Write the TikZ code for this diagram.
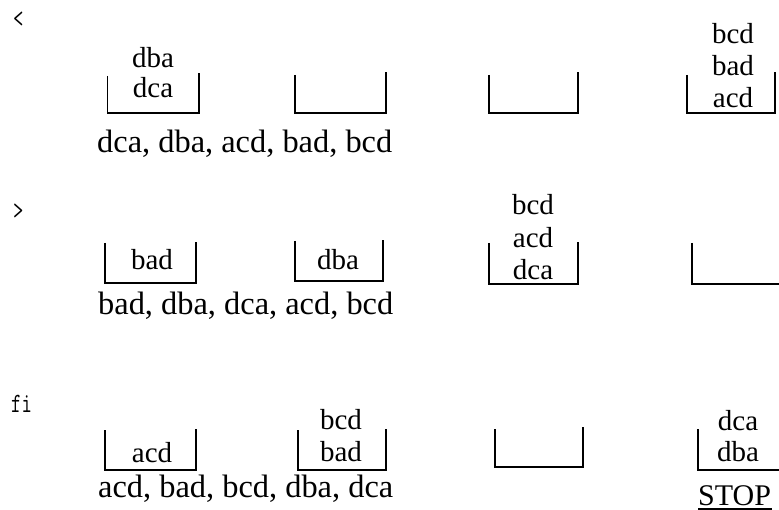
\documentclass[tikz,border=0pt]{standalone}
\usepackage{fontspec}
\setmainfont{Liberation Serif}
\newcommand\myseqfont{\fontsize{32.4}{38}\selectfont}
\newcommand\myitemfont{\fontsize{29}{32}\selectfont}
\newcommand\mytag[1]{\scalebox{0.72}[1]{\ttfamily\fontsize{28}{30}\selectfont #1}}
\begin{document}
\begin{tikzpicture}[x=1pt,y=-1pt,
  bucket/.style={line width=1.8pt},
  item/.style={anchor=base,inner sep=0pt,font=\myitemfont},
  seq/.style={anchor=base west,inner sep=0pt,font=\myseqfont},
  stopstyle/.style={anchor=base west,inner sep=0pt,font=\fontsize{30}{36}\selectfont},
  rowtag/.style={anchor=base west,inner sep=0pt}]
\useasboundingbox (0,0) rectangle (779,510);
% ---------- row 1 ----------
\node[rowtag] (m1) at (13,28) {\mytag{<}};
\draw[bucket] (107.5,76) |- (199,113) -- (199,73);
\node[item] (r1a1) at (153,68) {dba};
\node[item] (r1a2) at (153,98) {dca};
\draw[bucket] (294.7,75) |- (385.7,113) -- (385.7,72);
\draw[bucket] (489,75) |- (578,113) -- (578,72);
\draw[bucket] (687,75) |- (775,113) -- (775,72);
\node[item] (r1d1) at (733,44) {bcd};
\node[item] (r1d2) at (733,76) {bad};
\node[item] (r1d3) at (733,108) {acd};
\node[seq] (s1) at (97,153) {dca, dba, acd, bad, bcd};
% ---------- row 2 ----------
\node[rowtag] (m2) at (13,220) {\mytag{>}};
\draw[bucket] (105,243) |- (196,283) -- (196,242);
\node[item] (r2a1) at (152,270) {bad};
\draw[bucket] (295,241) |- (383,281) -- (383,240);
\node[item] (r2b1) at (338,270) {dba};
\draw[bucket] (489,243) |- (578,284) -- (578,242);
\node[item] (r2c1) at (533,215) {bcd};
\node[item] (r2c2) at (533,248) {acd};
\node[item] (r2c3) at (533,280) {dca};
\draw[bucket] (692,243) |- (779,284);
\node[seq] (s2) at (98,315) {bad, dba, dca, acd, bcd};
% ---------- row 3 ----------
\node[rowtag] (m3) at (11,413) {\mytag{fi}};
\draw[bucket] (105,430) |- (196,470) -- (196,429);
\node[item] (r3a1) at (152,462) {acd};
\draw[bucket] (298,430) |- (386,470) -- (386,429);
\node[item] (r3b1) at (341,429) {bcd};
\node[item] (r3b2) at (341,461) {bad};
\draw[bucket] (495,429) |- (583,467) -- (583,427);
\draw[bucket] (698,429) |- (779,470);
\node[item] (r3d1) at (738,430) {dca};
\node[item] (r3d2) at (738,461) {dba};
\node[seq] (s3) at (98,497) {acd, bad, bcd, dba, dca};
\node[stopstyle] (stop) at (698,505) {STOP};
\draw[line width=1.4pt] (stop.base west) ++(0,4) -- ++(74,0);
\end{tikzpicture}
\end{document}
